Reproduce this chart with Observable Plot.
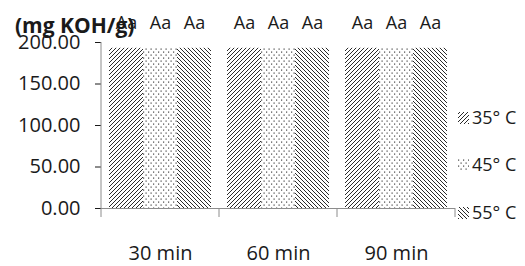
<!DOCTYPE html>
<html><head><meta charset="utf-8">
<script src="https://cdn.jsdelivr.net/npm/d3@7"></script>
<script src="https://cdn.jsdelivr.net/npm/@observablehq/plot@0.6"></script>
<style>body{margin:0;background:#fff} svg{display:block}</style>
</head><body><div id="chart"></div>
<script>
const times = ["30 min", "60 min", "90 min"];
const temps = ["35° C", "45° C", "55° C"];
const values30 = [193, 193, 193];
const values60 = [193, 193, 193];
const values90 = [193, 193, 193];
const letters30 = ["Aa", "Aa", "Aa"];
const letters60 = ["Aa", "Aa", "Aa"];
const letters90 = ["Aa", "Aa", "Aa"];
const yTicks = [0, 50, 100, 150, 200];
const yTitle = "(mg KOH/g)";
const patternIds = ["p35", "p45", "p55"];

const valuesByTime = [values30, values60, values90];
const lettersByTime = [letters30, letters60, letters90];
const data = times.flatMap((t, i) => temps.map((s, j) => ({
  time: t, temp: s, value: valuesByTime[i][j], letter: lettersByTime[i][j]
})));

const font = "'Open Sans', sans-serif";
const ink = "#1a1a1a";

const chart = Plot.plot({
  width: 525, height: 266,
  marginLeft: 101, marginRight: 70, marginTop: 42, marginBottom: 58,
  style: {fontFamily: font, fontSize: "20px", color: ink, background: "#fff", overflow: "visible"},
  fx: {domain: times, padding: 0, axis: "bottom", tickSize: 0, tickPadding: 37, label: null},
  x: {domain: temps, paddingInner: 0, paddingOuter: 0.2, axis: null},
  y: {domain: [0, 200], ticks: yTicks, tickFormat: d3.format(".2f"), tickSize: 6, tickPadding: 15, label: null},
  color: {domain: temps, range: patternIds.map(id => `url(#${id})`)},
  marks: [
    Plot.barY(data, {fx: "time", x: "temp", y: "value", fill: "temp"}),
    Plot.text(data, {fx: "time", x: "temp", y: "value", text: "letter", dy: -25, fontSize: 18, fill: ink}),
    Plot.ruleY([0], {stroke: "#8c8c8c", strokeWidth: 1})
  ]
});

const svg = d3.select(chart);
// patterns
const defs = svg.insert("defs", ":first-child");
const hatchColor = "#2a2a2a";
const p1 = defs.append("pattern").attr("id", "p35").attr("patternUnits", "userSpaceOnUse").attr("width", 4).attr("height", 4);
p1.append("rect").attr("width", 4).attr("height", 4).attr("fill", "#fff");
p1.append("path").attr("d", "M-1,1 l2,-2 M0,4 l4,-4 M3,5 l2,-2").attr("stroke", hatchColor).attr("stroke-width", 1);
const p3 = defs.append("pattern").attr("id", "p55").attr("patternUnits", "userSpaceOnUse").attr("width", 4).attr("height", 4);
p3.append("rect").attr("width", 4).attr("height", 4).attr("fill", "#fff");
p3.append("path").attr("d", "M-1,3 l2,2 M0,0 l4,4 M3,-1 l2,2").attr("stroke", hatchColor).attr("stroke-width", 1);
const p2 = defs.append("pattern").attr("id", "p45").attr("patternUnits", "userSpaceOnUse").attr("width", 5).attr("height", 6);
p2.append("rect").attr("width", 5).attr("height", 6).attr("fill", "#fff");
p2.append("rect").attr("x", 0.5).attr("y", 0.5).attr("width", 1.2).attr("height", 1.2).attr("fill", "#444");
p2.append("rect").attr("x", 3).attr("y", 3.5).attr("width", 1.2).attr("height", 1.2).attr("fill", "#444");

// scales
const ys = chart.scale("y");
const yLin = d3.scaleLinear(ys.domain, ys.range);
const fxs = chart.scale("fx");
const fxBand = d3.scaleBand(fxs.domain, fxs.range).paddingInner(fxs.paddingInner || 0).paddingOuter(fxs.paddingOuter || 0);
const y0 = yLin(0);

// y axis domain line
svg.append("line").attr("x1", 101).attr("x2", 101).attr("y1", yLin(200)).attr("y2", y0)
  .attr("stroke", "#8c8c8c");
// category boundary ticks
const edges = fxs.domain.map(d => fxBand(d)).concat([fxBand(fxs.domain[fxs.domain.length - 1]) + fxBand.bandwidth()]);
svg.append("g").selectAll("line").data(edges).join("line")
  .attr("x1", d => d).attr("x2", d => d).attr("y1", y0).attr("y2", y0 + 9)
  .attr("stroke", "#8c8c8c");

// y title
svg.append("text").attr("x", 15).attr("y", 33).attr("text-anchor", "start").attr("font-family", font).attr("font-weight", "bold")
  .attr("font-size", 21).attr("fill", ink).text(yTitle);

// legend
const color = chart.scale("color");
const legendY = [118, 165, 213];
const lg = svg.append("g").attr("font-family", font).attr("font-size", 18).attr("fill", ink).attr("text-anchor", "start");
color.domain.forEach((d, i) => {
  lg.append("rect").attr("x", 458).attr("y", legendY[i] - 6).attr("width", 11).attr("height", 12).attr("fill", color.range[i]);
  lg.append("text").attr("x", 472).attr("y", legendY[i]).attr("dy", "0.35em").text(d);
});

document.getElementById("chart").appendChild(chart);
</script>
</body></html>
